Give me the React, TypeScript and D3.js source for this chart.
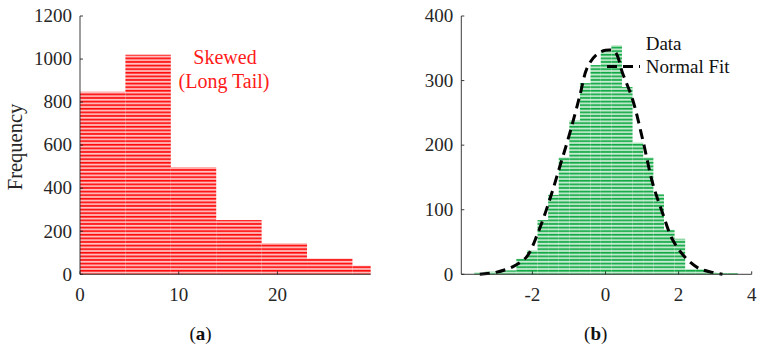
import React from 'react';
import * as d3 from 'd3';

/* ─── data ─── */
const skewEdges = [0, 4.6, 9.2, 13.8, 18.4, 23.0, 27.6, 32.2];
const skewCounts = [848, 1020, 497, 252, 145, 73, 40];
const skewXTicks = [0, 10, 20];
const skewYTicks = [0, 200, 400, 600, 800, 1000, 1200];

const normEdges = [
    -3.59, -3.30, -3.01, -2.72, -2.44, -2.15, -1.86, -1.57, -1.28, -0.99, -0.70, -0.41, -0.13,
    0.16, 0.45, 0.74, 1.03, 1.31, 1.60, 1.89, 2.18, 2.47, 2.76, 3.05, 3.34, 3.62,
];
const normCounts = [
    3, 4, 5, 6, 24, 37, 84, 123, 181, 238, 296, 324, 345,
    355, 290, 204, 181, 124, 69, 55, 8, 8, 3, 2, 2,
];
const fitX = [-3.44, -3.0, -2.53, -2.16, -1.85, -1.53, -1.25, -0.98, -0.71, -0.5, -0.25, 0, 0.25, 0.47, 0.745, 1.02, 1.29, 1.56, 1.84, 2.2, 2.56, 2.93, 3.2];
const fitY = [0, 3, 12, 27, 64, 115, 167, 218, 275, 320, 340, 347, 345, 311, 270, 208, 141, 95, 53, 25, 9, 3, 0];
const normXTicks = [-2, 0, 2, 4];
const normYTicks = [0, 100, 200, 300, 400];

const SERIF = { fontFamily: '"Liberation Serif", "Times New Roman", Times, serif' };
const AXIS = '#262626';
const TOP = 16;
const BOTTOM = 274.3;

function Axes({ x, y, xTicks, yTicks }) {
    const [x0, x1] = x.range();
    return (
        <g>
            <line x1={x0} x2={x0} y1={TOP} y2={BOTTOM} stroke={AXIS} strokeWidth={0.9} />
            <line x1={x0} x2={x1} y1={BOTTOM} y2={BOTTOM} stroke={AXIS} strokeWidth={0.9} />
            {yTicks.map(t => (
                <g key={'y' + t}>
                    <line x1={x0} x2={x0 + 3} y1={y(t)} y2={y(t)} stroke={AXIS} strokeWidth={0.9} />
                    <text x={x0 - 8} y={y(t)} dy="0.33em" textAnchor="end" fontSize={19} fill={AXIS} style={SERIF}>{t}</text>
                </g>
            ))}
            {xTicks.map(t => (
                <g key={'x' + t}>
                    <line x1={x(t)} x2={x(t)} y1={BOTTOM} y2={BOTTOM - 3} stroke={AXIS} strokeWidth={0.9} />
                    <text x={x(t)} y={BOTTOM + 27} textAnchor="middle" fontSize={19} fill={AXIS} style={SERIF}>{t}</text>
                </g>
            ))}
        </g>
    );
}

function Bars({ x, y, edges, counts, fill }) {
    const [xMin, xMax] = x.range();
    return (
        <g>
            {counts.map((c, i) => {
                const a = Math.max(x(edges[i]), xMin);
                const b = Math.min(x(edges[i + 1]), xMax);
                return <rect key={i} x={a} y={y(c)} width={Math.max(0, b - a)} height={BOTTOM - y(c)} fill={fill} />;
            })}
        </g>
    );
}

export default function App() {
    // left: skewed histogram
    const xL = d3.scaleLinear().domain([0, 29.45]).range([80, 370.7]);
    const yL = d3.scaleLinear().domain([0, 1200]).range([BOTTOM, TOP]);
    // right: normal histogram + fit
    const xR = d3.scaleLinear().domain([-3.946, 4]).range([461.3, 751.7]);
    const yR = d3.scaleLinear().domain([0, 400]).range([BOTTOM, TOP]);

    const fitPts = fitX.map((v, i) => [v, fitY[i]]);
    const fitLine = d3.line().x(d => xR(d[0])).y(d => yR(d[1])).curve(d3.curveCatmullRom.alpha(0.5));

    return (
        <svg width={763} height={353} style={{ position: 'absolute', left: 0, top: 0, background: '#fff' }}>
            <defs>
                <pattern id="redStripe" patternUnits="userSpaceOnUse" width={4} height={3.6}>
                    <rect width={4} height={3.6} fill="#ff7a7a" />
                    <rect y={0} width={4} height={1.5} fill="#ff0a0a" />
                    <rect y={2.2} width={4} height={0.8} fill="#ffffff" />
                </pattern>
                <pattern id="greenStripe" patternUnits="userSpaceOnUse" width={4} height={3.6}>
                    <rect width={4} height={3.6} fill="#86d59d" />
                    <rect y={0} width={4} height={1.5} fill="#12a845" />
                    <rect y={2.2} width={4} height={0.8} fill="#ffffff" />
                </pattern>
            </defs>

            {/* (a) */}
            <Bars x={xL} y={yL} edges={skewEdges} counts={skewCounts} fill="url(#redStripe)" />
            <Axes x={xL} y={yL} xTicks={skewXTicks} yTicks={skewYTicks} />
            <text transform="translate(22,147) rotate(-90)" textAnchor="middle" fontSize={20.5} fill={AXIS} style={SERIF}>Frequency</text>
            <text x={225} y={64} textAnchor="middle" fontSize={20} fill="#ff1a1a" style={SERIF}>Skewed</text>
            <text x={224} y={88} textAnchor="middle" fontSize={20} fill="#ff1a1a" style={SERIF}>(Long Tail)</text>
            <text x={200.5} y={340} textAnchor="middle" fontSize={19} fill="#111" style={SERIF}>
                (<tspan fontWeight="bold">a</tspan>)
            </text>

            {/* (b) */}
            <Bars x={xR} y={yR} edges={normEdges} counts={normCounts} fill="url(#greenStripe)" />
            <path d={fitLine(fitPts)} fill="none" stroke="#000" strokeWidth={3} strokeDasharray="10,6" />
            <Axes x={xR} y={yR} xTicks={normXTicks} yTicks={normYTicks} />
            <line x1={607} x2={640} y1={66.5} y2={66.5} stroke="#000" strokeWidth={3} strokeDasharray="10,6" />
            <text x={645.7} y={44} dy="0.33em" fontSize={19} fill="#111" style={SERIF}>Data</text>
            <text x={645.7} y={66.5} dy="0.33em" fontSize={19} fill="#111" style={SERIF}>Normal Fit</text>
            <text x={595.7} y={340} textAnchor="middle" fontSize={19} fill="#111" style={SERIF}>
                (<tspan fontWeight="bold">b</tspan>)
            </text>
        </svg>
    );
}
